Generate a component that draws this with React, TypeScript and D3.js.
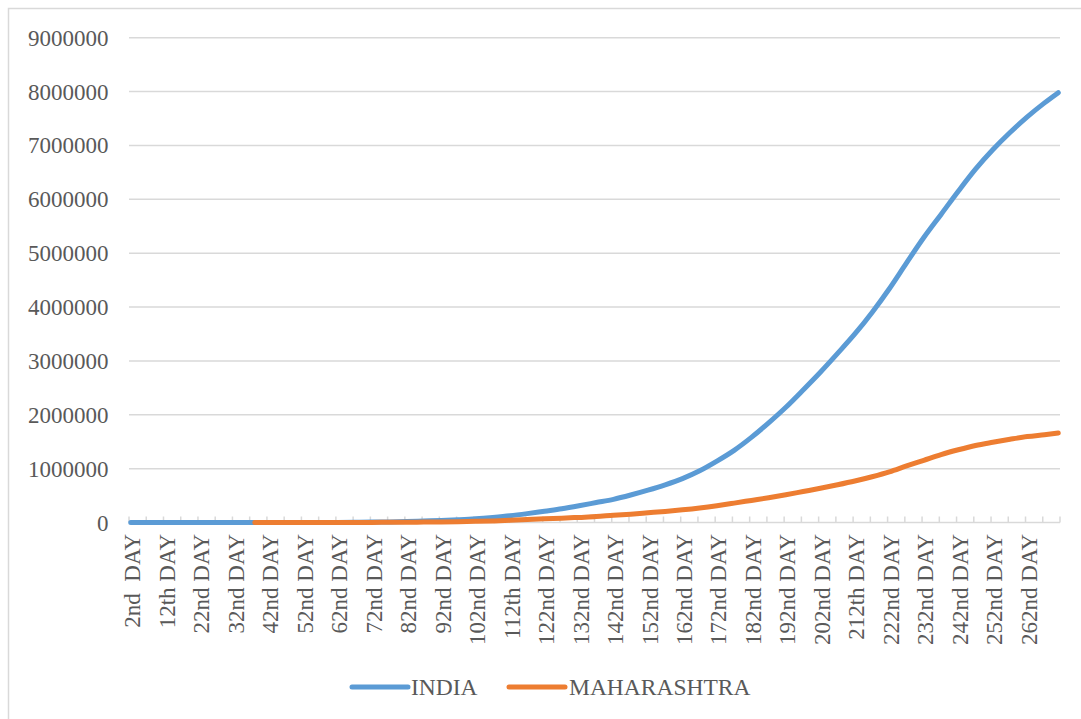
import React, { useEffect, useRef } from "react";
import * as d3 from "d3";

const indiaDays = [2, 7, 12, 17, 22, 27, 32, 37, 42, 47, 52, 57, 62, 67, 72, 77, 82, 87, 92, 97, 102, 107, 112, 117, 122, 127, 132, 137, 142, 147, 152, 157, 162, 167, 172, 177, 182, 187, 192, 197, 202, 207, 212, 217, 222, 227, 232, 237, 242, 247, 252, 257, 262, 267, 271];
const indiaCases = [1, 3, 3, 3, 3, 3, 3, 5, 50, 100, 200, 500, 1200, 3000, 7000, 11000, 17000, 27000, 37000, 52000, 70000, 95000, 125000, 165000, 210000, 255000, 310000, 370000, 430000, 510000, 600000, 700000, 815000, 960000, 1140000, 1340000, 1580000, 1850000, 2140000, 2460000, 2790000, 3140000, 3500000, 3900000, 4340000, 4820000, 5290000, 5720000, 6150000, 6560000, 6920000, 7240000, 7530000, 7790000, 7980000];

const mhDays = [38, 42, 47, 52, 57, 62, 67, 72, 77, 82, 87, 92, 97, 102, 107, 112, 117, 122, 127, 132, 137, 142, 147, 152, 157, 162, 167, 172, 177, 182, 187, 192, 197, 202, 207, 212, 217, 222, 227, 232, 237, 242, 247, 252, 257, 262, 267, 271];
const mhCases = [2, 10, 40, 100, 200, 300, 900, 1700, 3000, 4700, 7600, 10500, 15500, 21500, 29000, 40000, 55000, 70000, 80000, 95000, 110000, 135000, 155000, 180000, 205000, 235000, 270000, 312000, 360000, 410000, 460000, 515000, 575000, 635000, 700000, 770000, 850000, 940000, 1050000, 1155000, 1260000, 1350000, 1430000, 1490000, 1545000, 1595000, 1630000, 1660000];

const labelDays = [2, 12, 22, 32, 42, 52, 62, 72, 82, 92, 102, 112, 122, 132, 142, 152, 162, 172, 182, 192, 202, 212, 222, 232, 242, 252, 262];
const labelTexts = ["2nd  DAY", "12th DAY", "22nd DAY", "32nd DAY", "42nd DAY", "52nd DAY", "62nd DAY", "72nd DAY", "82nd DAY", "92nd DAY", "102nd DAY", "112th DAY", "122nd DAY", "132nd DAY", "142nd DAY", "152nd DAY", "162nd DAY", "172nd DAY", "182nd DAY", "192nd DAY", "202nd DAY", "212th DAY", "222nd DAY", "232nd DAY", "242nd DAY", "252nd DAY", "262nd DAY"];

const yTicks = [0, 1000000, 2000000, 3000000, 4000000, 5000000, 6000000, 7000000, 8000000, 9000000];

const seriesNames = ["INDIA", "MAHARASHTRA"];
const seriesColors = ["#5B9BD5", "#ED7D31"];

export default function App() {
  const ref = useRef<SVGSVGElement>(null);

  useEffect(() => {
    const svg = d3.select(ref.current);
    svg.selectAll("*").remove();

    const font = "'Liberation Serif', 'Times New Roman', serif";
    const textColor = "#595959";
    const left = 129, right = 1060, top = 37.7, bottom = 522.5;
    const firstDay = 2, lastDay = 271;

    // chart border
    svg.append("rect")
      .attr("x", 8.5).attr("y", 8.5)
      .attr("width", 1090).attr("height", 730)
      .attr("fill", "white")
      .attr("stroke", "#d9d9d9")
      .attr("stroke-width", 1.5);

    // category axis as a linear scale over day numbers (each day one slot)
    const x = d3.scaleLinear()
      .domain([firstDay - 0.5, lastDay + 0.5])
      .range([left, right]);
    const y = d3.scaleLinear().domain([0, 9000000]).range([bottom, top]);

    // horizontal grid
    svg.selectAll(".grid")
      .data(yTicks.slice(1))
      .join("line")
      .attr("x1", left).attr("x2", right)
      .attr("y1", d => y(d)).attr("y2", d => y(d))
      .attr("stroke", "#d9d9d9")
      .attr("stroke-width", 1.5);

    // y labels
    svg.selectAll(".ylab")
      .data(yTicks)
      .join("text")
      .attr("x", 108.5)
      .attr("y", d => y(d))
      .attr("dy", "0.35em")
      .attr("text-anchor", "end")
      .style("font-family", font)
      .style("font-size", "23px")
      .style("fill", textColor)
      .text(d => String(d));

    // x axis line with tick marks every 5 days
    svg.append("line")
      .attr("x1", left).attr("x2", right)
      .attr("y1", bottom).attr("y2", bottom)
      .attr("stroke", "#d9d9d9")
      .attr("stroke-width", 1.5);

    const tickBounds = d3.range(firstDay - 0.5, lastDay + 1, 5);
    svg.selectAll(".xtick")
      .data(tickBounds)
      .join("line")
      .attr("x1", d => x(d)).attr("x2", d => x(d))
      .attr("y1", bottom - 6).attr("y2", bottom)
      .attr("stroke", "#d9d9d9")
      .attr("stroke-width", 1.5);

    // rotated category labels
    svg.selectAll(".xlab")
      .data(labelDays)
      .join("text")
      .attr("transform", d => `translate(${x(d) + 1.5}, 534) rotate(-90)`)
      .attr("dy", "0.35em")
      .attr("text-anchor", "end")
      .style("white-space", "pre")
      .style("font-family", font)
      .style("font-size", "23px")
      .style("fill", textColor)
      .text((d, i) => labelTexts[i]);

    const line = d3.line<[number, number]>()
      .x(d => x(d[0]))
      .y(d => y(d[1]))
      .curve(d3.curveMonotoneX);

    const india: [number, number][] = indiaDays.map((d, i) => [d, indiaCases[i]]);
    const mh: [number, number][] = mhDays.map((d, i) => [d, mhCases[i]]);

    [india, mh].forEach((s, i) => {
      svg.append("path")
        .datum(s)
        .attr("fill", "none")
        .attr("stroke", seriesColors[i])
        .attr("stroke-width", 5)
        .attr("stroke-linecap", "round")
        .attr("stroke-linejoin", "round")
        .attr("d", line);
    });

    // legend
    const legendItems = [
      { x0: 352, x1: 408, tx: 411 },
      { x0: 509, x1: 565, tx: 569 },
    ];
    legendItems.forEach((l, i) => {
      svg.append("line")
        .attr("x1", l.x0).attr("x2", l.x1)
        .attr("y1", 687).attr("y2", 687)
        .attr("stroke", seriesColors[i])
        .attr("stroke-width", 5)
        .attr("stroke-linecap", "round");
      svg.append("text")
        .attr("x", l.tx)
        .attr("y", 695)
        .style("font-family", font)
        .style("font-size", "23.5px")
        .style("fill", textColor)
        .text(seriesNames[i]);
    });
  }, []);

  return (
    <svg
      ref={ref}
      width={1081}
      height={719}
      style={{ position: "absolute", left: 0, top: 0, background: "white" }}
    />
  );
}
